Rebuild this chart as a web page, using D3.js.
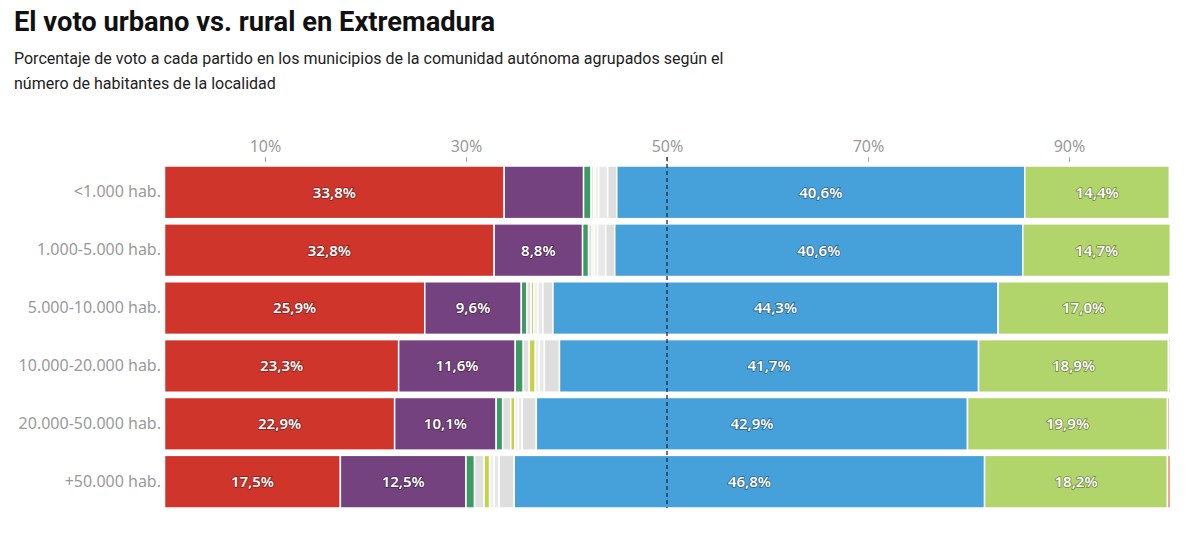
<!DOCTYPE html>
<html>
<head>
<meta charset="utf-8">
<script src="https://cdn.jsdelivr.net/npm/d3@7"></script>
<style>
  body { margin: 0; background: #fff; }
  svg { display: block; }
  .titulo { font-family: Roboto, sans-serif; font-weight: 700; font-size: 27.3px; fill: #111; }
  .sub { font-family: Roboto, sans-serif; font-size: 16px; fill: #222; }
  .eje text { font-family: "Noto Sans", sans-serif; font-size: 16px; fill: #9a9a9a; }
  .valor { font-family: "Noto Sans", sans-serif; font-size: 15px; font-weight: 600; fill: #fff;
           paint-order: stroke; stroke: rgba(0,0,0,0.4); stroke-width: 1.6px; }
</style>
</head>
<body>
<svg id="chart" width="1200" height="534"></svg>
<script>
// grupos de municipios
const grupos = ["<1.000 hab.", "1.000-5.000 hab.", "5.000-10.000 hab.", "10.000-20.000 hab.", "20.000-50.000 hab.", "+50.000 hab."];

// % de voto por partido
const psoe    = [33.8, 32.8, 25.9, 23.3, 22.9, 17.5];
const up      = [7.9, 8.8, 9.6, 11.6, 10.1, 12.5];
const verde   = [0.75, 0.6, 0.55, 0.8, 0.65, 0.85];
const otros1  = [0.25, 0.35, 0.45, 0.6, 0.8, 0.95];
const amarillo= [0.15, 0.2, 0.25, 0.6, 0.4, 0.55];
const otros2  = [0.35, 0.35, 0.4, 0.4, 0.35, 0.45];
const otros3  = [0.9, 0.8, 0.5, 0.5, 0.4, 0.5];
const otros4  = [0.9, 0.9, 1.0, 1.5, 1.4, 1.5];
const pp      = [40.6, 40.6, 44.3, 41.7, 42.9, 46.8];
const vox     = [14.4, 14.7, 17.0, 18.9, 19.9, 18.2];
const cs      = [0.1, 0.05, 0.1, 0.15, 0.2, 0.3];

const ticks = [10, 30, 50, 70, 90];

const partidos = ["psoe", "up", "verde", "otros1", "amarillo", "otros2", "otros3", "otros4", "pp", "vox", "cs"];
const series = { psoe, up, verde, otros1, amarillo, otros2, otros3, otros4, pp, vox, cs };
const colores = {
  psoe: "#d0352c", up: "#74427e", verde: "#3d9a63", otros1: "#e0e0e0", amarillo: "#c4d247",
  otros2: "#efefef", otros3: "#e8e8e8", otros4: "#dedede", pp: "#46a0da", vox: "#b2d56b", cs: "#ec8a6c"
};

// tabla para el stack
const tabla = grupos.map((g, i) => {
  const fila = { grupo: g };
  partidos.forEach(p => fila[p] = series[p][i]);
  return fila;
});

const svg = d3.select("#chart");

svg.append("text").attr("class", "titulo").attr("x", 14).attr("y", 31)
  .text("El voto urbano vs. rural en Extremadura");
svg.append("text").attr("class", "sub").attr("x", 14).attr("y", 64)
  .text("Porcentaje de voto a cada partido en los municipios de la comunidad autónoma agrupados según el");
svg.append("text").attr("class", "sub").attr("x", 14).attr("y", 89)
  .text("número de habitantes de la localidad");

const x = d3.scaleLinear().domain([0, 100]).range([164.5, 1169.5]);
const y = d3.scaleBand().domain(grupos).range([166, 508]).paddingInner(0.09);

const stack = d3.stack().keys(partidos)(tabla);

// barras
const capas = svg.append("g").selectAll("g")
  .data(stack)
  .join("g")
  .attr("fill", d => colores[d.key]);

capas.selectAll("rect")
  .data(d => d)
  .join("rect")
  .attr("x", d => x(d[0]))
  .attr("y", d => y(d.data.grupo))
  .attr("width", d => Math.max(0, x(d[1]) - x(d[0])))
  .attr("height", y.bandwidth())
  .attr("stroke", "#fff")
  .attr("stroke-width", 1.5);

// etiquetas de valor
const conEtiqueta = ["psoe", "up", "pp", "vox"];
stack.filter(s => conEtiqueta.includes(s.key)).forEach(s => {
  svg.append("g").selectAll("text")
    .data(s.filter(d => d[1] - d[0] >= 8.5))
    .join("text")
    .attr("class", "valor")
    .attr("x", d => (x(d[0]) + x(d[1])) / 2)
    .attr("y", d => y(d.data.grupo) + y.bandwidth() / 2)
    .attr("dy", "0.36em")
    .attr("text-anchor", "middle")
    .text(d => (d[1] - d[0]).toFixed(1).replace(".", ",") + "%");
});

// eje superior
const ejeX = svg.append("g").attr("class", "eje")
  .attr("transform", "translate(0,162)")
  .call(d3.axisTop(x).tickValues(ticks).tickSize(5).tickFormat(d => d + "%"));
ejeX.select(".domain").remove();
ejeX.selectAll("line").attr("stroke", "#aaa");
ejeX.selectAll("text").attr("dy", "-0.1em");

// eje vertical
const ejeY = svg.append("g").attr("class", "eje")
  .attr("transform", "translate(161,0)")
  .call(d3.axisLeft(y).tickSize(0).tickPadding(0));
ejeY.select(".domain").remove();

// linea del 50%
svg.append("line")
  .attr("x1", x(50)).attr("x2", x(50))
  .attr("y1", 157).attr("y2", 508)
  .attr("stroke", "#1c2a3a")
  .attr("stroke-width", 1.3)
  .attr("stroke-dasharray", "4,3");
</script>
</body>
</html>
